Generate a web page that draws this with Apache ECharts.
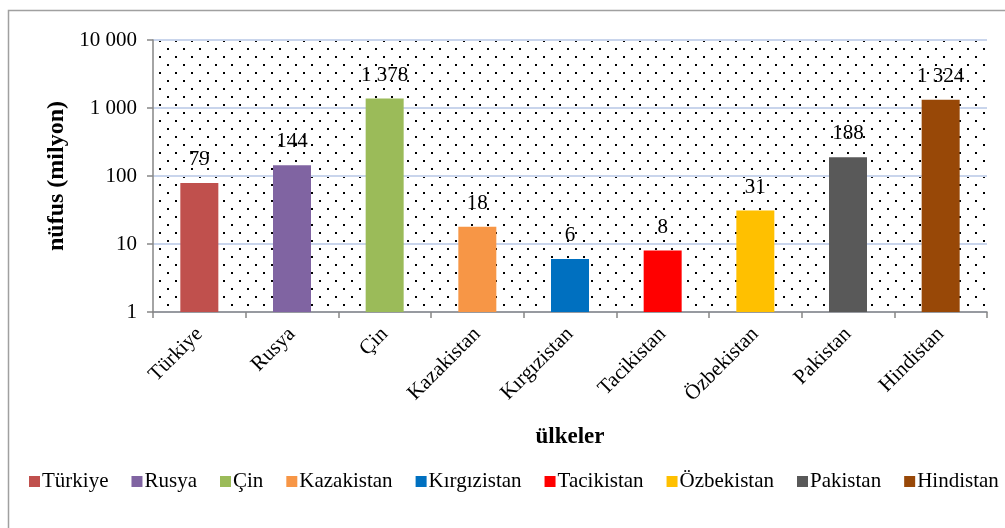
<!DOCTYPE html>
<html><head><meta charset="utf-8">
<script src="https://cdn.jsdelivr.net/npm/echarts@6/dist/echarts.min.js"></script>
<style>html,body{margin:0;padding:0;background:#fff}#c{width:1005px;height:528px}</style>
</head><body><div id="c"></div>
<script>
var categories = ['Türkiye','Rusya','Çin','Kazakistan','Kırgızistan','Tacikistan','Özbekistan','Pakistan','Hindistan'];
var values = [79,144,1378,18,6,8,31,188,1324];
var colors = ['#C0504D','#8064A2','#9BBB59','#F79646','#0070C0','#FF0000','#FFC000','#595959','#984807'];
var yTicks = [1,10,100,1000,10000];

function fmt(v){ return String(Math.round(v)).replace(/\B(?=(\d{3})+(?!\d))/g,' '); }

var tile = document.createElement('canvas');
tile.width = 16; tile.height = 16;
var tc = tile.getContext('2d');
tc.fillStyle = '#fff'; tc.fillRect(0,0,16,16);
tc.fillStyle = '#000';
tc.fillRect(7,0,2,2); tc.fillRect(15,8,2,2); tc.fillRect(-1,8,2,2);

var font = 'Liberation Serif';
var series = categories.map(function(name,i){
  var d = categories.map(function(c,j){ return j===i ? values[i] : '-'; });
  return {
    name: name, type: 'bar', data: d, barWidth: 38, barGap: '-100%',
    itemStyle: {color: colors[i]},
    label: {show: true, position: 'top', distance: 13, color: '#000', fontFamily: font, fontSize: 21,
      formatter: function(p){ return fmt(p.value); }}
  };
});

var chart = echarts.init(document.getElementById('c'));
chart.setOption({
  backgroundColor: '#fff',
  animation: false,
  textStyle: {fontFamily: font},
  graphic: [{type:'rect', shape:{x:8.5,y:10.5,width:1010,height:530}, style:{fill:'none', stroke:'#a0a0a0', lineWidth:1.5}, silent:true, z:-1}],
  grid: {left: 153, right: 18, top: 40, bottom: 216, show: true, borderWidth: 0,
    backgroundColor: {image: tile, repeat: 'repeat'}},
  legend: {top: 471, left: 29, width: 1000, padding: 0, itemWidth: 11, itemHeight: 11, itemGap: 23, icon: 'rect',
    textStyle: {fontFamily: font, fontSize: 21, color: '#000', padding: [0,0,0,-3]},
    data: categories},
  xAxis: {type: 'category', data: categories, name: 'ülkeler', nameLocation: 'middle', nameGap: 114,
    nameTextStyle: {fontFamily: font, fontSize: 23, fontWeight: 'bold', color: '#000'},
    axisLine: {lineStyle: {color: '#868686', width: 1.5}},
    axisTick: {show: true, length: 6, lineStyle: {color: '#868686', width: 1.5}},
    axisLabel: {rotate: 45, fontFamily: font, fontSize: 21, color: '#000', margin: 19}},
  yAxis: {type: 'log', logBase: 10, min: 1, max: 10000, name: 'nüfus (milyon)', nameLocation: 'middle', nameGap: 76,
    nameTextStyle: {fontFamily: font, fontSize: 24, fontWeight: 'bold', color: '#000'},
    axisLine: {show: true, lineStyle: {color: '#868686', width: 1.5}},
    axisTick: {show: true, length: 6, lineStyle: {color: '#868686', width: 1.5}},
    splitLine: {show: true, lineStyle: {color: '#c9d5ec', width: 2}},
    axisLabel: {fontFamily: font, fontSize: 21, color: '#000', margin: 16,
      formatter: function(v){ return fmt(v); }}},
  series: series
});
</script></body></html>
